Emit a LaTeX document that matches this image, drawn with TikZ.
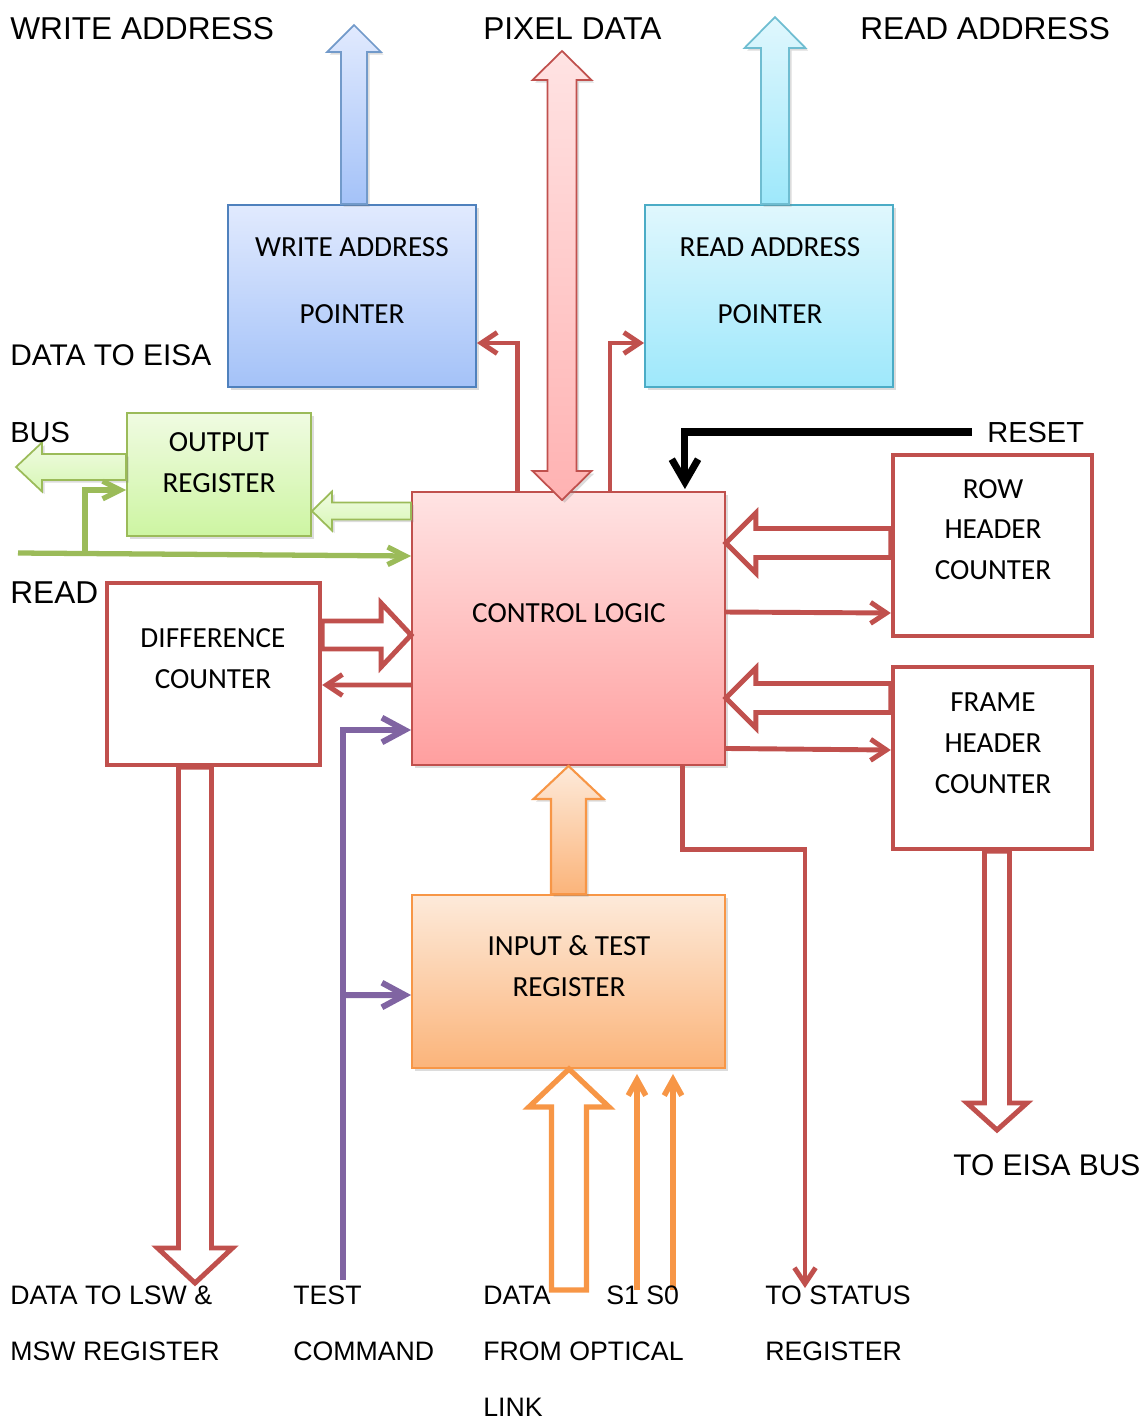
\documentclass[tikz,border=0pt]{standalone}
\usepackage{fontspec}
\setmainfont{Liberation Sans}
\newfontfamily\boxfont{Carlito}
\usetikzlibrary{arrows.meta,calc,shadows}

\definecolor{redline}{HTML}{C0504D}
\definecolor{purpleline}{HTML}{8064A2}
\definecolor{greenline}{HTML}{9BBB59}
\definecolor{orangeline}{HTML}{F79646}
\definecolor{blueline}{HTML}{4F81BD}
\definecolor{cyanline}{HTML}{4BACC6}
\definecolor{blueTop}{HTML}{E1EAFE}
\definecolor{blueBot}{HTML}{A4C2F8}
\definecolor{cyanTop}{HTML}{E0F7FD}
\definecolor{cyanBot}{HTML}{9EE8FB}
\definecolor{greenTop}{HTML}{F0FBE2}
\definecolor{greenBot}{HTML}{CDF5A2}
\definecolor{pinkTop}{HTML}{FFE3E3}
\definecolor{pinkBot}{HTML}{FF9F9F}
\definecolor{orTop}{HTML}{FDEADA}
\definecolor{orBot}{HTML}{FBB47A}

% block arrow: [style]{tail}{tip}{shaft half width}{head half width}{head length}
\newcommand\blockarrow[6][]{%
  \draw[#1] ($(#2)!{#4*0.02cm}!90:(#3)$)
    -- ($(#3)!{#6*0.02cm}!(#2)!{#4*0.02cm}!-90:(#2)$)
    -- ($(#3)!{#6*0.02cm}!(#2)!{#5*0.02cm}!-90:(#2)$)
    -- (#3)
    -- ($(#3)!{#6*0.02cm}!(#2)!{#5*0.02cm}!90:(#2)$)
    -- ($(#3)!{#6*0.02cm}!(#2)!{#4*0.02cm}!90:(#2)$)
    -- ($(#2)!{#4*0.02cm}!-90:(#3)$) -- cycle;}

% two-headed block arrow: [style]{tip a}{tip b}{shaft half width}{head half width}{head length}
\newcommand\twinarrow[6][]{%
  \draw[#1] (#2)
    -- ($(#2)!{#6*0.02cm}!(#3)!{#5*0.02cm}!90:(#3)$)
    -- ($(#2)!{#6*0.02cm}!(#3)!{#4*0.02cm}!90:(#3)$)
    -- ($(#3)!{#6*0.02cm}!(#2)!{#4*0.02cm}!-90:(#2)$)
    -- ($(#3)!{#6*0.02cm}!(#2)!{#5*0.02cm}!-90:(#2)$)
    -- (#3)
    -- ($(#3)!{#6*0.02cm}!(#2)!{#5*0.02cm}!90:(#2)$)
    -- ($(#3)!{#6*0.02cm}!(#2)!{#4*0.02cm}!90:(#2)$)
    -- ($(#2)!{#6*0.02cm}!(#3)!{#4*0.02cm}!-90:(#3)$)
    -- ($(#2)!{#6*0.02cm}!(#3)!{#5*0.02cm}!-90:(#3)$)
    -- cycle;}

\begin{document}
\begin{tikzpicture}[x=0.02cm,y=-0.02cm,
  softshadow/.style={drop shadow={opacity=0.28,shadow xshift=1.5pt,shadow yshift=-1.5pt}},
  cbox/.style={inner sep=0pt,line width=1.1pt,softshadow},
  wbox/.style={inner sep=0pt,draw=redline,line width=2.5pt,fill=white},
  lbl/.style={font=\fontsize{#1}{32pt}\selectfont,anchor=base west,inner sep=0pt},
  lbl/.default=18,
  btext/.style={font=\boxfont\fontsize{16.6}{#1}\selectfont,anchor=base,inner sep=0pt},
  redarrow/.style={draw=redline,line width=2.8pt,-{Straight Barb[length=9pt,width=12pt]}},
  blackarrow/.style={draw=black,line width=4pt,-{Straight Barb[length=13pt,width=15pt]}},
  purplearrow/.style={draw=purpleline,line width=3.4pt,-{Straight Barb[length=13pt,width=14pt]}},
  greenarrow/.style={draw=greenline,line width=3pt,-{Straight Barb[length=10pt,width=10pt]}},
  orangearrow/.style={draw=orangeline,line width=3.2pt,-{Straight Barb[length=9pt,width=10pt]}},
  redhollow/.style={draw=redline,line width=2.8pt,fill=white,line join=miter},
  orangehollow/.style={draw=orangeline,line width=3pt,fill=white,line join=miter},
  bluefill/.style={draw=blueline!80,line width=1pt,top color=blueTop,bottom color=blueBot,softshadow},
  cyanfill/.style={draw=cyanline!80,line width=1pt,top color=cyanTop,bottom color=cyanBot,softshadow},
  pinkfill/.style={draw=redline,line width=1pt,top color=pinkTop,bottom color=pinkBot!80,softshadow},
  greenfill/.style={draw=greenline,line width=1pt,top color=greenTop,bottom color=greenBot!80,softshadow},
  orangefill/.style={draw=orangeline,line width=1.2pt,top color=orTop,bottom color=orBot,softshadow}]

\useasboundingbox (0,0) rectangle (1141,1421);

% ---- blocks ----
\node[cbox,draw=blueline,top color=blueTop,bottom color=blueBot,
      minimum width=4.96cm,minimum height=3.64cm] (wap) at (352,296) {};
\node[cbox,draw=cyanline,top color=cyanTop,bottom color=cyanBot,
      minimum width=4.96cm,minimum height=3.64cm] (rap) at (769,296) {};
\node[cbox,draw=greenline,top color=greenTop,bottom color=greenBot,
      minimum width=3.68cm,minimum height=2.46cm] (outreg) at (219,474.5) {};
\node[cbox,draw=redline,top color=pinkTop,bottom color=pinkBot,
      minimum width=6.26cm,minimum height=5.46cm] (cl) at (568.5,628.5) {};
\node[cbox,draw=orangeline,top color=orTop,bottom color=orBot,
      minimum width=6.26cm,minimum height=3.46cm] (inreg) at (568.5,981.5) {};
\node[wbox,minimum width=3.98cm,minimum height=3.62cm] (row) at (992.5,545.5) {};
\node[wbox,minimum width=3.98cm,minimum height=3.64cm] (frame) at (992.5,758) {};
\node[wbox,minimum width=4.26cm,minimum height=3.64cm] (diff) at (213.5,674) {};

% ---- block texts ----
\node[btext=38.5pt] (wap-t) at (352,256) {\begin{tabular}[t]{@{}c@{}}WRITE ADDRESS\\POINTER\end{tabular}};
\node[btext=38.5pt] (rap-t) at (770,256) {\begin{tabular}[t]{@{}c@{}}READ ADDRESS\\POINTER\end{tabular}};
\node[btext=23.8pt] (outreg-t) at (219,451) {\begin{tabular}[t]{@{}c@{}}OUTPUT\\REGISTER\end{tabular}};
\node[btext=23.8pt] (cl-t) at (569,622) {CONTROL LOGIC};
\node[btext=23.2pt] (row-t) at (993,498) {\begin{tabular}[t]{@{}c@{}}ROW\\HEADER\\COUNTER\end{tabular}};
\node[btext=23.5pt] (frame-t) at (993,711) {\begin{tabular}[t]{@{}c@{}}FRAME\\HEADER\\COUNTER\end{tabular}};
\node[btext=23.8pt] (diff-t) at (213,647) {\begin{tabular}[t]{@{}c@{}}DIFFERENCE\\COUNTER\end{tabular}};
\node[btext=23.8pt] (inreg-t) at (569,955) {\begin{tabular}[t]{@{}c@{}}INPUT \& TEST\\REGISTER\end{tabular}};

% ---- free ends ----
\coordinate (wtip) at (354,25);
\coordinate (rtip) at (775,17);
\coordinate (ptop) at (562,51);
\coordinate (pbot) at (562,500);
\coordinate (reset) at (972,432);
\coordinate (readin) at (18,553);
\coordinate (busout) at (16,467);
\coordinate (test) at (343,1280);
\coordinate (datain) at (569,1290);
\coordinate (s1) at (637,1290);
\coordinate (s0) at (673,1290);
\coordinate (lswout) at (195,1283);
\coordinate (eisaout) at (997,1130);
\coordinate (status) at (805,1288);

% ---- address and pixel buses ----
\blockarrow[bluefill]{wtip |- wap.north}{wtip}{13}{27}{27}
\blockarrow[cyanfill]{rtip |- rap.north}{rtip}{14}{30.5}{31}

\draw[redarrow] ([xshift=2.12cm]cl.north west) |- ([yshift=0.9cm]wap.south east);
\draw[redarrow] ([xshift=-2.32cm]cl.north east) |- ([yshift=0.9cm]rap.south west);

\draw[blackarrow] (reset) -| ([xshift=-0.82cm,yshift=0.04cm]cl.north east);

% ---- counters ----
\coordinate (rowin) at ([yshift=0.05cm]row.west);
\blockarrow[redhollow]{rowin}{cl.east |- rowin}{14.5}{30}{30}
\draw[redarrow] ([yshift=0.33cm]cl.east) -- ([yshift=-1.35cm]row.west);

\coordinate (framein) at ([yshift=1.2cm]frame.west);
\blockarrow[redhollow]{framein}{cl.east |- framein}{14.5}{30}{30}
\draw[redarrow] ([yshift=-2.4cm]cl.east) -- ([yshift=0.16cm]frame.west);

\coordinate (diffout) at ([yshift=0.78cm]diff.east);
\blockarrow[redhollow]{diffout}{cl.west |- diffout}{14}{32}{30}
\draw[redarrow] ([yshift=-1.13cm]cl.west) -- ([yshift=-0.22cm]diff.east);

\blockarrow[redhollow]{lswout |- diff.south}{lswout}{16.5}{37.5}{35}
\blockarrow[redhollow]{eisaout |- frame.south}{eisaout}{12.5}{30}{27}

\draw[redarrow] ([xshift=-0.86cm]cl.south east) -- ++(0,84) -| (status);

% ---- output register ----
\coordinate (clout) at ([yshift=2.35cm]cl.west);
\blockarrow[greenfill]{clout}{outreg.east |- clout}{8.5}{19.5}{20}
\blockarrow[greenfill]{[yshift=0.15cm]outreg.west}{busout}{13}{24.5}{26}
\draw[greenarrow] (readin) -- ([yshift=1.45cm]cl.west);
\draw[greenarrow] ($(readin)+(67,0)$) |- ([yshift=-0.31cm]outreg.west);

% ---- test command ----
\draw[purplearrow] (test) |- ([yshift=-2.03cm]cl.west);
\draw[purplearrow] (test |- inreg.west) ++(0,13.5) -- ([yshift=-0.27cm]inreg.west);

% ---- input register ----
\blockarrow[orangefill]{inreg.north}{cl.south}{17.5}{35}{33}
\blockarrow[orangehollow]{datain}{datain |- inreg.south}{17.5}{40}{38}
\draw[orangearrow] (s1) -- ($(s1 |- inreg.south)+(0,5)$);
\draw[orangearrow] (s0) -- ($(s0 |- inreg.south)+(0,5)$);

% ---- pixel data ----
\twinarrow[pinkfill]{ptop}{pbot}{14.5}{29.5}{29}

% ---- outer labels ----
\node[lbl] (l-wa) at (10,39) {WRITE ADDRESS};
\node[lbl] (l-pd) at (483,39) {PIXEL DATA};
\node[lbl] (l-ra) at (860,39) {READ ADDRESS};
\node[lbl=17] (l-de) at (10,365) {DATA TO EISA};
\node[lbl=16.5] (l-bus) at (10,442) {BUS};
\node[lbl] (l-read) at (10,603) {READ};
\node[lbl=16.5] (l-reset) at (987,442) {RESET};
\node[lbl=17] (l-eisa) at (953,1175) {TO EISA BUS};
\node[lbl=15.2] (l-lsw) at (10,1304.5) {\begin{tabular}[t]{@{}l@{}}DATA TO LSW \&\\MSW REGISTER\end{tabular}};
\node[lbl=15.2] (l-test) at (293,1304.5) {\begin{tabular}[t]{@{}l@{}}TEST\\COMMAND\end{tabular}};
\node[lbl=15.2] (l-data) at (483,1304.5) {\begin{tabular}[t]{@{}l@{}}DATA\\FROM OPTICAL\\LINK\end{tabular}};
\node[lbl=15.2] (l-s) at (606,1304.5) {S1 S0};
\node[lbl=15.2] (l-status) at (765,1304.5) {\begin{tabular}[t]{@{}l@{}}TO STATUS\\REGISTER\end{tabular}};
\end{tikzpicture}
\end{document}
